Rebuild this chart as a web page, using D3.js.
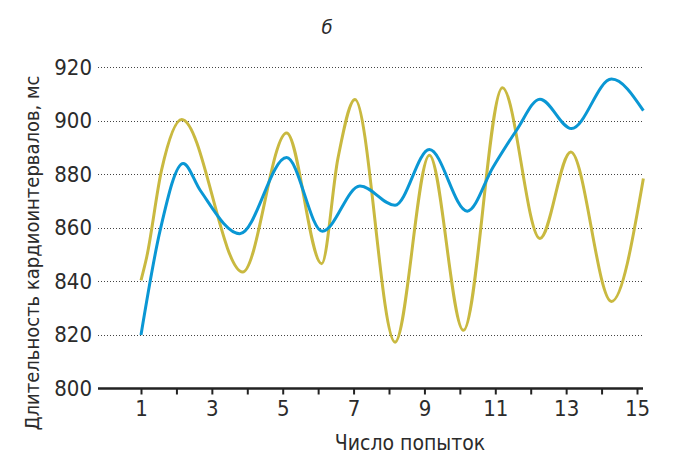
<!DOCTYPE html>
<html>
<head>
<meta charset="utf-8">
<script src="https://cdn.jsdelivr.net/npm/d3@7"></script>
<style>
  body { margin: 0; background: #fff; }
  svg text { font-family: "Liberation Sans Narrow", "DejaVu Sans Condensed", sans-serif; fill: #2b2b2b; }
</style>
</head>
<body>
<div id="chart"></div>
<script>
// values (x = attempt, y = ms)
const blueX  = [1, 1.54, 2.19, 2.67, 3.79, 5.11, 6.12, 7.18, 8.17, 9.14, 10.21, 10.94, 11.6, 12.26, 13.15, 14.28, 15.18];
const blueY  = [820, 859, 884, 874, 857.8, 886.2, 858.7, 875.6, 868.4, 889.2, 866.2, 882.7, 896.4, 908, 897, 915.5, 903.7];
const oliveX = [1, 1.16, 1.58, 2.15, 3.87, 5.11, 6.10, 6.56, 7.04, 8.17, 9.14, 10.10, 11.2, 12.26, 13.13, 14.28, 15.18];
const oliveY = [840.4, 849, 881.5, 900.4, 843.5, 895.4, 846.6, 886, 907.9, 817.3, 887.1, 821.7, 912.3, 856, 888.3, 832.5, 878.4];
const yTicks = [800, 820, 840, 860, 880, 900, 920];
const xTicks = d3.range(1, 16);

const width = 680, height = 472;
const plotLeft = 98, plotRight = 643;

const svg = d3.select('#chart').append('svg')
  .attr('width', width)
  .attr('height', height);

const x = d3.scaleLinear().domain([1, 15]).range([141, 637]);
const y = d3.scaleLinear().domain([800, 920]).range([388.5, 67]);

// dotted grid lines
svg.append('g')
  .selectAll('line')
  .data(yTicks.filter(d => d > 800))
  .join('line')
  .attr('x1', plotLeft)
  .attr('x2', plotRight)
  .attr('y1', d => Math.round(y(d)) + 0.5)
  .attr('y2', d => Math.round(y(d)) + 0.5)
  .attr('stroke', '#444')
  .attr('stroke-width', 1)
  .attr('stroke-dasharray', '1,2');

// y labels
const yAxisG = svg.append('g')
  .attr('transform', `translate(${plotLeft},0)`)
  .call(d3.axisLeft(y).tickValues(yTicks).tickSize(0).tickPadding(6));
yAxisG.select('.domain').remove();
yAxisG.selectAll('text').style('font-size', '22px').attr('fill', '#2b2b2b');

// x axis
const xAxisG = svg.append('g')
  .attr('transform', `translate(0,${y(800)})`)
  .call(d3.axisBottom(x).tickValues(xTicks).tickSize(6).tickPadding(6)
    .tickFormat(d => d % 2 ? d : ''));
xAxisG.select('.domain').remove();
xAxisG.selectAll('.tick line').attr('stroke', '#222').attr('stroke-width', 2);
xAxisG.selectAll('text').style('font-size', '22px').attr('fill', '#2b2b2b');
xAxisG.append('line')
  .attr('x1', plotLeft)
  .attr('x2', plotRight)
  .attr('stroke', '#222')
  .attr('stroke-width', 2.5);

// lines
const line = d3.line()
  .x(d => x(d[0]))
  .y(d => y(d[1]))
  .curve(d3.curveMonotoneX);

svg.append('path')
  .datum(oliveX.map((d, i) => [d, oliveY[i]]))
  .attr('fill', 'none')
  .attr('stroke', '#c9b940')
  .attr('stroke-width', 3)
  .attr('d', line);

svg.append('path')
  .datum(blueX.map((d, i) => [d, blueY[i]]))
  .attr('fill', 'none')
  .attr('stroke', '#0a97d4')
  .attr('stroke-width', 3)
  .attr('d', line);

// titles
svg.append('text')
  .attr('x', 327)
  .attr('y', 34)
  .attr('text-anchor', 'middle')
  .style('font-size', '20px')
  .style('font-style', 'italic')
  .text('б');

svg.append('text')
  .attr('x', 410)
  .attr('y', 450)
  .attr('text-anchor', 'middle')
  .style('font-size', '21px')
  .text('Число попыток');

svg.append('text')
  .attr('transform', 'rotate(-90)')
  .attr('x', -253)
  .attr('y', 39)
  .attr('text-anchor', 'middle')
  .style('font-size', '20px')
  .text('Длительность кардиоинтервалов, мс');
</script>
</body>
</html>
